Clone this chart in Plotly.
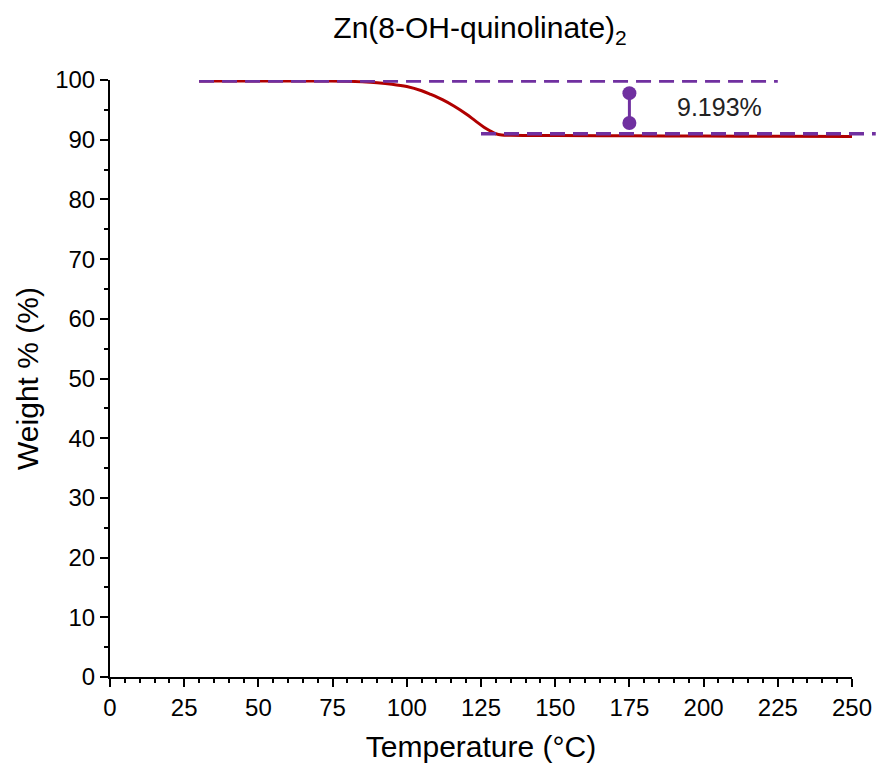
import plotly.graph_objects as go

# TGA curve
temp = [30, 40, 50, 60, 70, 80, 85, 90, 95, 100, 105, 108, 112, 116, 120, 123, 126, 128, 130, 132, 135, 140, 150, 175, 200, 225, 250]
weight = [99.85, 99.85, 99.85, 99.85, 99.83, 99.78, 99.7, 99.55, 99.3, 98.9, 98.2, 97.6, 96.7, 95.6, 94.3, 93.2, 92.1, 91.5, 91.0, 90.8, 90.75, 90.72, 90.7, 90.65, 90.6, 90.57, 90.55]

# reference lines
upper_line_x = [30, 225]
upper_line_y = 99.85
lower_line_x = [125, 258]
lower_line_y = 91.0

# step marker
step_x = [175, 175]
step_y = [97.8, 92.8]
step_label = "9.193%"
label_pos = (205.5, 95.4)

purple = "#7030A0"
red = "#B00000"

fig = go.Figure()
fig.add_trace(go.Scatter(x=temp, y=weight, mode="lines", line=dict(color=red, width=3, shape="spline"),
                         showlegend=False, hoverinfo="skip"))
fig.add_trace(go.Scatter(x=upper_line_x, y=[upper_line_y] * 2, mode="lines",
                         line=dict(color=purple, width=3.5, dash="15px,8px"), showlegend=False))
fig.add_trace(go.Scatter(x=step_x, y=step_y, mode="lines+markers",
                         line=dict(color=purple, width=3), marker=dict(color=purple, size=14),
                         showlegend=False))

xmin, xmax = 0, 250
fig.add_shape(type="line", xref="paper", yref="y",
              x0=(lower_line_x[0] - xmin) / (xmax - xmin), x1=(lower_line_x[1] - xmin) / (xmax - xmin),
              y0=lower_line_y, y1=lower_line_y,
              line=dict(color=purple, width=3.5, dash="15px,8px"))

fig.add_annotation(x=label_pos[0], y=label_pos[1], text=step_label, showarrow=False,
                   font=dict(size=25, color="#222"))

font = "Liberation Sans, Arial, sans-serif"
fig.update_layout(
    width=876, height=773,
    margin=dict(l=110, r=24, t=80, b=96),
    paper_bgcolor="white", plot_bgcolor="white",
    font=dict(family=font, color="black"),
    title=dict(text="Zn(8-OH-quinolinate)<sub>2</sub>", x=0.548, xanchor="center", y=0.964, yanchor="middle",
               font=dict(size=30, color="black")),
    xaxis=dict(range=[xmin, xmax], tickmode="linear", tick0=0, dtick=25, automargin=False,
               ticks="outside", ticklen=8, tickwidth=2, tickcolor="black",
               showline=True, linecolor="black", linewidth=2, showgrid=False, zeroline=False,
               tickfont=dict(size=24),
               minor=dict(dtick=5, ticks="outside", ticklen=4, tickwidth=1.5, tickcolor="black", showgrid=False),
               title=dict(text="Temperature (°C)", font=dict(size=30), standoff=16)),
    yaxis=dict(range=[0, 100], tickmode="linear", tick0=0, dtick=10, automargin=False,
               ticks="outside", ticklen=8, tickwidth=2, tickcolor="black",
               showline=True, linecolor="black", linewidth=2, showgrid=False, zeroline=False,
               tickfont=dict(size=24),
               minor=dict(dtick=5, ticks="outside", ticklen=4, tickwidth=1.5, tickcolor="black", showgrid=False),
               title=dict(text="Weight % (%)", font=dict(size=30), standoff=8)),
)

fig.write_html("out.html")
